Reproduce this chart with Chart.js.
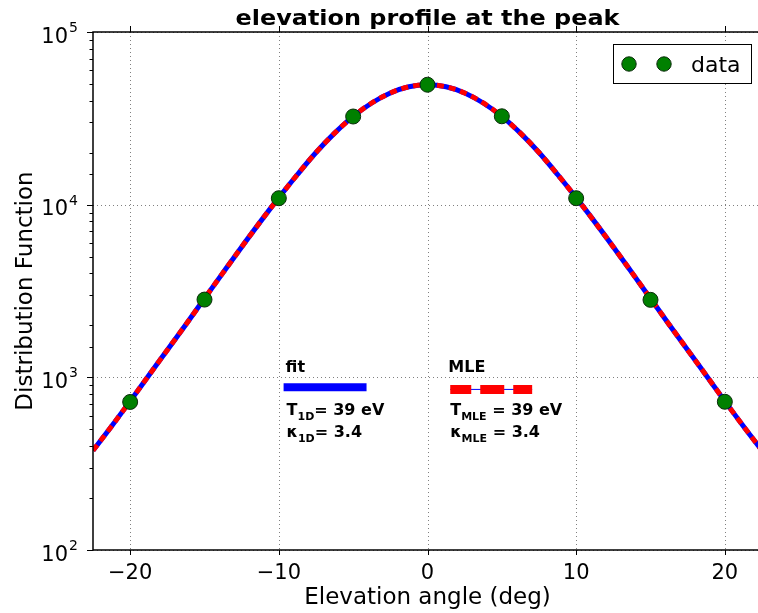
<!DOCTYPE html>
<html>
<head>
<meta charset="utf-8">
<script src="https://cdn.jsdelivr.net/npm/chart.js@4.4.1/dist/chart.umd.min.js"></script>
<style>
  html, body { margin: 0; padding: 0; background: #fff; overflow: hidden; }
  #profile { display: block; }
</style>
</head>
<body>
<!-- a few pixels wider than the window: the right spine falls just outside the picture -->
<canvas id="profile" width="764" height="613" style="width:764px;height:613px"></canvas>
<script>
// elevation angle grid of the fitted curves (deg)
const curveX = [-22.5, -21.25, -20, -18.75, -17.5, -16.25, -15, -13.75, -12.5, -11.25, -10,
  -8.75, -7.5, -6.25, -5, -3.75, -2.5, -1.25, 0, 1.25, 2.5, 3.75, 5, 6.25, 7.5, 8.75,
  10, 11.25, 12.5, 13.75, 15, 16.25, 17.5, 18.75, 20, 21.25, 22.5];

// kappa fit (blue, solid)
const fitY = [377, 521, 728, 1025, 1440, 2025, 2860, 4040, 5690, 7950, 10980,
  14950, 20050, 25950, 32450, 38800, 44350, 48150, 49500, 48150, 44350, 38800, 32450, 25950, 20050, 14950,
  10980, 7950, 5690, 4040, 2860, 2025, 1440, 1025, 728, 521, 377];

// MLE curve (red, dashed) - lies on top of the fit
const mleY = [377, 521, 728, 1025, 1440, 2025, 2860, 4040, 5690, 7950, 10980,
  14950, 20050, 25950, 32450, 38800, 44350, 48150, 49500, 48150, 44350, 38800, 32450, 25950, 20050, 14950,
  10980, 7950, 5690, 4040, 2860, 2025, 1440, 1025, 728, 521, 377];

// measured points
const dataX = [-20, -15, -10, -5, 0, 5, 10, 15, 20];
const dataY = [720, 2820, 10900, 32400, 49500, 32500, 10900, 2810, 722];

// ticks
const xTicks = [-20, -10, 0, 10, 20];
const xTickLabels = ['\u221220', '\u221210', '0', '10', '20'];
const yMajor = [100, 1000, 10000, 100000];
const yExponents = ['2', '3', '4', '5'];

const FONT = '"DejaVu Sans", Verdana, sans-serif';

const toXY = (xs, ys) => xs.map((v, i) => ({ x: v, y: ys[i] }));

function line(ctx, x1, y1, x2, y2) {
  ctx.beginPath();
  ctx.moveTo(x1, y1);
  ctx.lineTo(x2, y2);
  ctx.stroke();
}

// text with a subscript part: parts = [[text, isSub], ...]
function subText(ctx, x, y, parts) {
  parts.forEach(([txt, sub]) => {
    ctx.font = sub ? 'bold 11px ' + FONT : 'bold 16px ' + FONT;
    ctx.fillText(txt, x, sub ? y + 5 : y);
    x += ctx.measureText(txt).width;
  });
}

// frame, grid, tick labels, title, legend and the fit annotations
const decorations = {
  id: 'decorations',
  beforeDatasetsDraw(chart) {
    const { ctx, chartArea: a, scales: { x, y } } = chart;
    ctx.save();
    ctx.strokeStyle = '#808080';
    ctx.lineWidth = 1;
    ctx.setLineDash([1, 3]);
    xTicks.forEach(v => {
      const px = Math.round(x.getPixelForValue(v)) + 0.5;
      line(ctx, px, a.top, px, a.bottom);
    });
    yMajor.forEach(v => {
      const py = Math.round(y.getPixelForValue(v)) + 0.5;
      line(ctx, a.left, py, a.right, py);
    });
    ctx.restore();
  },
  afterDraw(chart) {
    const { ctx, chartArea: a, scales: { x, y } } = chart;
    ctx.save();

    // spines
    ctx.strokeStyle = '#000';
    ctx.lineWidth = 1.5;
    ctx.strokeRect(a.left, a.top, a.right - a.left, a.bottom - a.top);

    // x ticks, bottom and top, outward
    ctx.lineWidth = 1;
    xTicks.forEach(v => {
      const px = Math.round(x.getPixelForValue(v)) + 0.5;
      line(ctx, px, a.bottom, px, a.bottom + 5);
      line(ctx, px, a.top, px, a.top - 6);
    });
    // y ticks, major and minor
    y.ticks.forEach(t => {
      const py = Math.round(y.getPixelForValue(t.value)) + 0.5;
      const major = Math.abs(Math.log10(t.value) - Math.round(Math.log10(t.value))) < 1e-9;
      line(ctx, a.left, py, a.left - (major ? 6 : 3.5), py);
    });

    // tick labels
    ctx.fillStyle = '#000';
    ctx.textAlign = 'center';
    ctx.textBaseline = 'alphabetic';
    ctx.font = '21px ' + FONT;
    xTicks.forEach((v, i) => ctx.fillText(xTickLabels[i], x.getPixelForValue(v), a.bottom + 29));

    yMajor.forEach((v, i) => {
      const py = y.getPixelForValue(v);
      ctx.font = '14px ' + FONT;
      const ew = ctx.measureText(yExponents[i]).width;
      const right = a.left - 15;
      ctx.textAlign = 'right';
      ctx.fillText(yExponents[i], right, py);
      ctx.font = '21px ' + FONT;
      ctx.fillText('10', right - ew - 1, py + 10.5);
    });

    // axis titles
    ctx.textAlign = 'center';
    ctx.font = '23px ' + FONT;
    ctx.fillText('Elevation angle (deg)', (a.left + a.right) / 2, a.bottom + 54);
    ctx.save();
    ctx.translate(31.5, (a.top + a.bottom) / 2);
    ctx.rotate(-Math.PI / 2);
    ctx.fillText('Distribution Function', 0, 0);
    ctx.restore();

    // chart title (the original face is a little wider than DejaVu)
    ctx.save();
    ctx.font = 'bold 21px ' + FONT;
    const title = 'elevation profile at the peak';
    const tw = ctx.measureText(title).width;
    ctx.translate((a.left + a.right) / 2, a.top - 7);
    ctx.scale(384 / tw, 1);
    ctx.fillText(title, 0, 0);
    ctx.restore();

    // legend box
    const bx = a.right - 149, by = a.top + 12, bw = 138, bh = 39;
    ctx.fillStyle = '#fff';
    ctx.fillRect(bx, by, bw, bh);
    ctx.strokeStyle = '#000';
    ctx.lineWidth = 1;
    ctx.strokeRect(bx + 0.5, by + 0.5, bw, bh);
    [16, 51].forEach(dx => {
      ctx.beginPath();
      ctx.arc(bx + dx, by + 20, 7.2, 0, Math.PI * 2);
      ctx.fillStyle = '#008000';
      ctx.fill();
      ctx.strokeStyle = '#0a2a0a';
      ctx.stroke();
    });
    ctx.fillStyle = '#000';
    ctx.textAlign = 'left';
    ctx.font = '22px ' + FONT;
    ctx.fillText('data', bx + 78, by + 28);

    // fit / MLE annotations: x in data units, y as a fraction of the axes height
    const ay = f => a.top + f * (a.bottom - a.top);
    ctx.font = 'bold 16px ' + FONT;
    ctx.fillText('fit', x.getPixelForValue(-9.55), ay(0.656));
    ctx.fillText('MLE', x.getPixelForValue(1.4), ay(0.656));

    ctx.strokeStyle = '#0000ff';
    ctx.lineWidth = 8;
    line(ctx, x.getPixelForValue(-9.68), ay(0.686), x.getPixelForValue(-4.1), ay(0.686));

    const m1 = x.getPixelForValue(1.53), m2 = x.getPixelForValue(7.04), my = ay(0.690);
    ctx.lineWidth = 1;
    line(ctx, m1, my, m2, my);
    ctx.strokeStyle = '#ff0000';
    ctx.lineWidth = 9;
    ctx.setLineDash([24, 9]);
    ctx.lineDashOffset = 3;
    line(ctx, m1, my, m2, my);
    ctx.setLineDash([]);

    subText(ctx, x.getPixelForValue(-9.48), ay(0.739), [['T', false], ['1D', true], ['= 39 eV', false]]);
    subText(ctx, x.getPixelForValue(-9.48), ay(0.782), [['\u03ba', false], ['1D', true], ['= 3.4', false]]);
    subText(ctx, x.getPixelForValue(1.53), ay(0.739), [['T', false], ['MLE', true], [' = 39 eV', false]]);
    subText(ctx, x.getPixelForValue(1.53), ay(0.782), [['\u03ba', false], ['MLE', true], [' = 3.4', false]]);

    ctx.restore();
  }
};

new Chart(document.getElementById('profile'), {
  type: 'scatter',
  data: {
    datasets: [
      {
        label: 'data',
        data: toXY(dataX, dataY),
        order: 0,
        pointRadius: 7.5,
        pointBackgroundColor: '#008000',
        pointBorderColor: '#0a2a0a',
        pointBorderWidth: 1
      },
      {
        label: 'MLE',
        data: toXY(curveX, mleY),
        order: 1,
        showLine: true,
        pointRadius: 0,
        borderColor: '#ff0000',
        borderWidth: 5,
        borderDash: [7, 5],
        cubicInterpolationMode: 'monotone'
      },
      {
        label: 'fit',
        data: toXY(curveX, fitY),
        order: 2,
        showLine: true,
        pointRadius: 0,
        borderColor: '#0000ff',
        borderWidth: 5,
        cubicInterpolationMode: 'monotone'
      }
    ]
  },
  plugins: [decorations],
  options: {
    responsive: false,
    devicePixelRatio: 1,
    animation: false,
    layout: { autoPadding: false, padding: { top: 32, right: 2, left: 0, bottom: 0 } },
    plugins: {
      legend: { display: false },
      tooltip: { enabled: false }
    },
    scales: {
      x: {
        type: 'linear',
        min: -22.5,
        max: 22.5,
        grid: { display: false },
        border: { display: false },
        ticks: { display: false },
        afterFit(scale) { scale.height = 63; }
      },
      y: {
        type: 'logarithmic',
        min: 100,
        max: 100000,
        grid: { display: false },
        border: { display: false },
        ticks: { display: false },
        afterFit(scale) { scale.width = 93; }
      }
    }
  }
});
</script>
</body>
</html>
